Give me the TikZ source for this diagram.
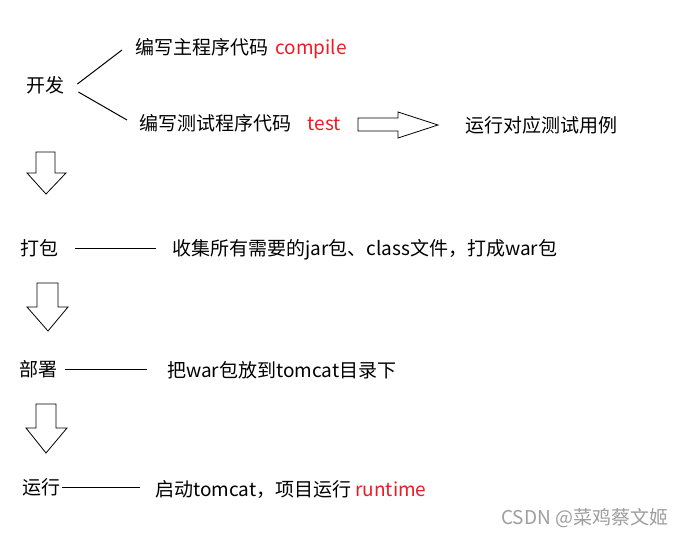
\documentclass[tikz,border=0pt]{standalone}
\usepackage{fontspec}
\setmainfont{Noto Sans CJK SC}
\usepackage{xcolor}
\usetikzlibrary{calc, positioning}

\definecolor{kwred}{RGB}{237,28,36}

\begin{document}
\begin{tikzpicture}[
    x=1pt, y=-1pt,
    node distance=7pt,
    stage/.style={anchor=west, inner sep=0pt, text height=16.7pt, text depth=2.3pt, font=\fontsize{19}{22}\selectfont},
    detail/.style={stage},
    keyword/.style={stage, text=kwred},
    line/.style={line width=1pt},
    blockarrow/.style={draw, line width=0.8pt, fill=white, line join=miter}
]
\useasboundingbox[fill=white] (0,0) rectangle (685,535);

% 阶段
\node[stage] (dev) at (26,85) {开发};
\node[stage] (pack) at (20,248) {打包};
\node[stage] (deploy) at (19,369) {部署};
\node[stage] (run) at (22,487) {运行};

% 开发的两个分支
\node[detail] (devmain) at (135,47) {编写主程序代码};
\node[keyword, right=7pt of devmain] (compile) {compile};
\node[detail] (devtest) at (139,123) {编写测试程序代码};
\node[keyword, right=16pt of devtest] (test) {test};
\node[detail] (testrun) at (465,125) {运行对应测试用例};

% 各阶段说明
\node[detail] (packtxt) at (172,248) {收集所有需要的jar包、class文件，打成war包};
\node[detail] (deploytxt) at (167,370) {把war包放到tomcat目录下};
\node[detail] (runtxt) at (155,489) {启动tomcat，项目运行 \textcolor{kwred}{runtime}};

% 水印
\node[stage, text=black!38] (mark) at (501,517) {CSDN @菜鸡蔡文姬};

% 连接线
\draw[line] ($(dev.east)+(13,-1)$) -- ($(devmain.west)+(-13,3)$);
\draw[line] ($(dev.east)+(14,7)$) -- ($(devtest.west)+(-12,-3)$);
\draw[line, shorten <=17pt, shorten >=16pt] (pack) -- (pack -| packtxt.west);
\draw[line, shorten <=8pt, shorten >=20pt] (deploy) -- (deploy -| deploytxt.west);
\draw[line, shorten <=2pt, shorten >=15pt] (run) -- (run -| runtxt.west);

% 空心箭头
\draw[blockarrow] (358,118) -- (398,118) -- (398,112) -- (438,125) -- (398,138) -- (398,131) -- (358,131) -- cycle;
\draw[blockarrow] (36,152) -- (55,152) -- (55,173) -- (66,173) -- (46,194) -- (27,173) -- (36,173) -- cycle;
\draw[blockarrow] (37,283) -- (58,283) -- (58,307) -- (68,307) -- (48,331) -- (27,307) -- (37,307) -- cycle;
\draw[blockarrow] (36,404) -- (56,404) -- (56,428) -- (67,428) -- (46,453) -- (26,428) -- (36,428) -- cycle;

\end{tikzpicture}
\end{document}
